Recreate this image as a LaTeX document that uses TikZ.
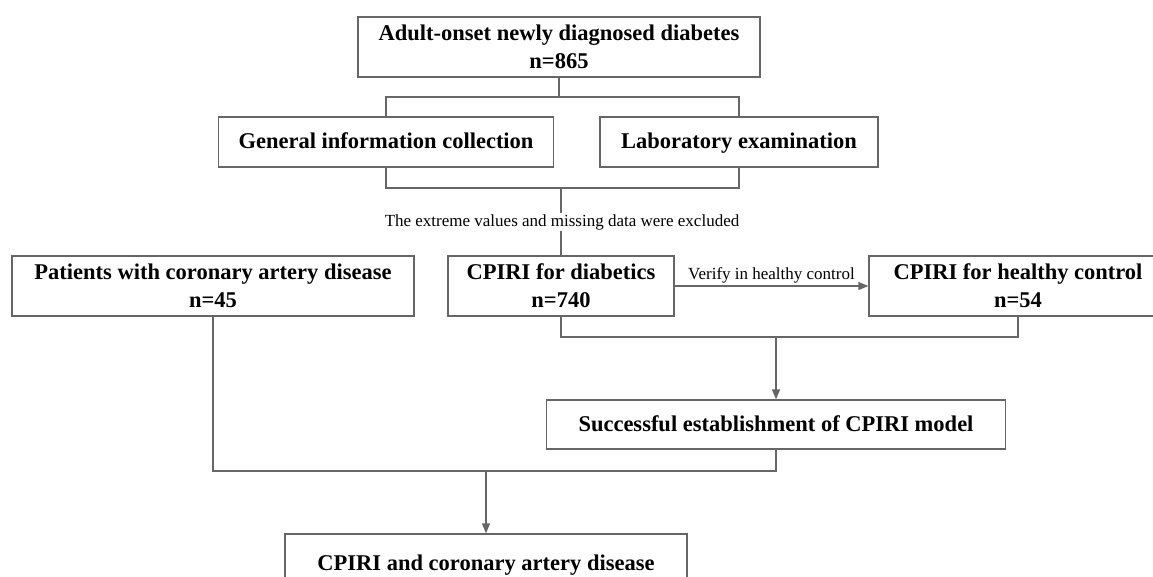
\documentclass[tikz,border=0pt]{standalone}
\usepackage{fontspec}
\setmainfont{Liberation Serif}
\usetikzlibrary{arrows.meta}
\definecolor{linegray}{HTML}{666666}
\tikzset{
  x=1pt, y=-1pt,
  box/.style={draw=linegray, line width=1.3pt, fill=white, align=center, inner sep=0pt,
    font=\fontsize{22.5}{28}\selectfont\bfseries, text=black},
  onebox/.style={box, text height=17pt, text depth=3.5pt},
  conn/.style={draw=linegray, line width=1.3pt},
  arr/.style={conn, -{Triangle[length=10pt,width=8pt]}},
  note/.style={font=\fontsize{17}{20}\selectfont, text=black, inner sep=1pt}
}
\begin{document}
\begin{tikzpicture}
\useasboundingbox (0,0) rectangle (1153,577);
\clip (0,0) rectangle (1153,577);
% boxes
\node[box, minimum width=402pt, minimum height=60pt] (top) at (559,47) {Adult-onset newly diagnosed diabetes\\n=865};
\node[onebox, minimum width=335pt, minimum height=50pt] (gen) at (386,142) {General information collection};
\node[onebox, minimum width=278pt, minimum height=50pt] (lab) at (739,142) {Laboratory examination};
\node[box, minimum width=402pt, minimum height=60pt] (pat) at (213,286) {Patients with coronary artery disease\\n=45};
\node[box, minimum width=226pt, minimum height=60pt] (dia) at (561,286) {CPIRI for diabetics\\n=740};
\node[box, minimum width=298pt, minimum height=60pt] (hea) at (1018,286) {CPIRI for healthy control\\n=54};
\node[onebox, minimum width=459pt, minimum height=49pt] (est) at (776,424.5) {Successful establishment of CPIRI model};
\node[onebox, minimum width=402pt, minimum height=60pt] (fin) at (486,564) {CPIRI and coronary artery disease};
% junction coordinates
\coordinate (j1) at (559,97);
\coordinate (j2) at (561,188);
\coordinate (j3) at (776,337);
\coordinate (j4) at (486,471);
% connectors
\draw[conn] (top.south) -- (j1);
\draw[conn] (gen.north) -- (gen.north |- j1) -- (lab.north |- j1) -- (lab.north);
\draw[conn] (gen.south) -- (gen.south |- j2) -- (lab.south |- j2) -- (lab.south);
\draw[conn] (j2) -- (dia.north);
\node[note, fill=white] (excl) at (562,222) {The extreme values and missing data were excluded};
\draw[arr] (dia.east) -- node[note, above=1pt, midway] (ver) {Verify in healthy control} (hea.west);
\draw[conn] (dia.south) -- (dia.south |- j3) -- (hea.south |- j3) -- (hea.south);
\draw[arr] (j3) -- (est.north);
\draw[conn] (est.south) -- (est.south |- j4) -- (pat.south |- j4) -- (pat.south);
\draw[arr] (j4) -- (fin.north);
\end{tikzpicture}
\end{document}
